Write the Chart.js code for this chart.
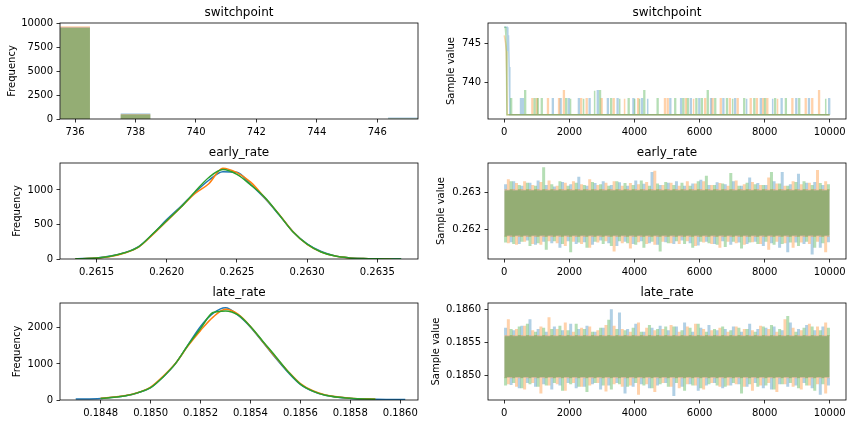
<!DOCTYPE html>
<html>
<head>
<meta charset="utf-8">
<script src="https://cdn.jsdelivr.net/npm/chart.js@4.4.0/dist/chart.umd.min.js"></script>
<style>
  body { margin: 0; background: #fff; width: 856px; height: 424px; position: relative; overflow: hidden; }
  canvas { position: absolute; }
</style>
</head>
<body>
<canvas id="swHist" width="428" height="140" style="left:0;top:0"></canvas>
<canvas id="swTrace" width="428" height="140" style="left:428px;top:0"></canvas>
<canvas id="earlyHist" width="428" height="140" style="left:0;top:140px"></canvas>
<canvas id="earlyTrace" width="428" height="140" style="left:428px;top:140px"></canvas>
<canvas id="lateHist" width="428" height="144" style="left:0;top:280px"></canvas>
<canvas id="lateTrace" width="428" height="144" style="left:428px;top:280px"></canvas>
<script>
// couleurs des 3 chaînes (bleu, orange, vert)
const chainColors = ["#1f77b4", "#ff7f0e", "#2ca02c"];

// ---- switchpoint : histogramme ----
const swBins = [736, 738, 746.85];
const swHistBlue = [9540, 560, 130];
const swHistOrange = [9620, 480, 0];
const swHistGreen = [9440, 420, 0];
const swHistXTicks = [736, 738, 740, 742, 744, 746];
const swHistYTicks = [0, 2500, 5000, 7500, 10000];

// ---- switchpoint : trace (burn-in puis sauts) ----
const swBurnBlue = [[0, 747], [40, 747], [90, 747], [110, 744], [130, 746], [150, 742], [170, 736]];
const swBurnOrange = [[0, 746], [20, 746], [40, 745], [60, 744], [75, 741], [90, 736]];
const swBurnGreen = [[0, 747], [30, 747], [50, 746], [65, 744], [80, 736]];
const swJumpsBlue = [[500, 738], [560, 738], [1480, 738], [1720, 738], [1970, 738], [2280, 738], [2610, 738], [2860, 739],
  [3170, 738], [3470, 738], [3955, 738], [4220, 738], [4390, 738], [5090, 738], [5420, 738], [5720, 738], [5980, 738],
  [6340, 738], [6720, 738], [7080, 738], [7430, 738], [7870, 738], [8230, 738], [8510, 738], [8960, 738], [9350, 738], [9970, 738]];
const swJumpsOrange = [[850, 738], [990, 738], [1330, 738], [1670, 738], [1820, 739], [2350, 738], [2520, 738], [2980, 738],
  [3350, 738], [3680, 738], [4100, 738], [4925, 738], [5010, 738], [5570, 738], [5800, 738], [6160, 738], [6390, 738],
  [6640, 738], [6920, 738], [7160, 738], [7560, 738], [7750, 738], [7940, 738], [8070, 738], [8380, 738], [8840, 738],
  [9250, 738], [9450, 738], [9660, 739]];
const swJumpsGreen = [[200, 738], [630, 739], [920, 738], [1020, 738], [1140, 738], [1890, 738], [2020, 738], [2420, 738],
  [2760, 739], [2930, 739], [3270, 738], [3530, 738], [3810, 738], [3990, 738], [4140, 738], [4290, 739], [4700, 738],
  [5240, 738], [5490, 738], [5630, 738], [5890, 738], [6060, 738], [6240, 739], [6470, 738], [6830, 738], [7000, 738],
  [7360, 738], [7670, 738], [8000, 738], [8310, 738], [8640, 738], [9050, 738], [9860, 738]];
const swTraceYTicks = [740, 745];
const traceXTicks = [0, 2000, 4000, 6000, 8000, 10000];

// fenêtres de 250 itérations pour les min / max des traces continues
const traceWindow = 250;
const chainOffsets = [40, 125, 210];

// ---- early_rate : densité ----
const earlyKdeX = [0.26135, 0.2614, 0.2615, 0.2616, 0.2617, 0.2618, 0.2619, 0.2620, 0.2621, 0.2622, 0.2623, 0.2624,
  0.2625, 0.2626, 0.2627, 0.2628, 0.2629, 0.2630, 0.2631, 0.2632, 0.2633, 0.2634, 0.2635, 0.2636, 0.26367];
const earlyKdeBlue = [3, 6, 16, 42, 92, 180, 360, 570, 760, 960, 1140, 1265, 1255, 1075, 875, 640, 395, 220, 108, 45, 18, 7, 3, 1, 1];
const earlyKdeOrange = [2, 5, 13, 36, 86, 172, 352, 548, 745, 945, 1090, 1315, 1250, 1110, 885, 650, 395, 210, 100, 42, 16, 6, 2, 1, null];
const earlyKdeGreen = [2, 5, 14, 40, 90, 176, 362, 555, 748, 970, 1180, 1295, 1225, 1070, 890, 645, 390, 215, 102, 42, 16, 6, 2, 1, 1];
const earlyHistXTicks = [0.2615, 0.2620, 0.2625, 0.2630, 0.2635];
const earlyHistYTicks = [0, 500, 1000];

// ---- early_rate : trace (bande centrale + max / min par fenêtre) ----
const earlyBandBlue = [0.26181, 0.26307];
const earlyBandOrange = [0.26179, 0.26309];
const earlyBandGreen = [0.26183, 0.26305];
const earlyMaxBlue = [0.26322, 0.26330, 0.26318, 0.26326, 0.26332, 0.26320, 0.26316, 0.26328, 0.26322, 0.26342,
  0.26318, 0.26325, 0.26330, 0.26320, 0.26327, 0.26318, 0.26332, 0.26323, 0.26355, 0.26320,
  0.26326, 0.26330, 0.26318, 0.26324, 0.26334, 0.26320, 0.26327, 0.26322, 0.26330, 0.26318,
  0.26340, 0.26325, 0.26320, 0.26330, 0.26355, 0.26322, 0.26350, 0.26326, 0.26328, 0.26320];
const earlyMaxOrange = [0.26335, 0.26325, 0.26330, 0.26320, 0.26328, 0.26332, 0.26318, 0.26326, 0.26330, 0.26322,
  0.26335, 0.26320, 0.26326, 0.26330, 0.26318, 0.26325, 0.26322, 0.26328, 0.26358, 0.26320,
  0.26326, 0.26318, 0.26330, 0.26324, 0.26330, 0.26320, 0.26325, 0.26318, 0.26332, 0.26322,
  0.26328, 0.26320, 0.26340, 0.26324, 0.26318, 0.26330, 0.26322, 0.26326, 0.26360, 0.26330];
const earlyMaxGreen = [0.26330, 0.26320, 0.26326, 0.26318, 0.26368, 0.26322, 0.26330, 0.26318, 0.26326, 0.26320,
  0.26328, 0.26322, 0.26318, 0.26330, 0.26325, 0.26320, 0.26332, 0.26318, 0.26324, 0.26328,
  0.26320, 0.26326, 0.26318, 0.26330, 0.26345, 0.26320, 0.26324, 0.26352, 0.26318, 0.26326,
  0.26322, 0.26320, 0.26355, 0.26324, 0.26318, 0.26328, 0.26330, 0.26320, 0.26325, 0.26322];
const earlyMinBlue = [0.26165, 0.26160, 0.26170, 0.26158, 0.26166, 0.26162, 0.26150, 0.26168, 0.26160, 0.26165,
  0.26158, 0.26170, 0.26162, 0.26155, 0.26166, 0.26160, 0.26168, 0.26162, 0.26158, 0.26165,
  0.26160, 0.26170, 0.26162, 0.26156, 0.26166, 0.26160, 0.26168, 0.26158, 0.26164, 0.26160,
  0.26166, 0.26155, 0.26162, 0.26150, 0.26138, 0.26164, 0.26160, 0.26132, 0.26150, 0.26165];
const earlyMinOrange = [0.26162, 0.26158, 0.26166, 0.26160, 0.26158, 0.26168, 0.26162, 0.26155, 0.26166, 0.26160,
  0.26150, 0.26164, 0.26168, 0.26140, 0.26162, 0.26148, 0.26165, 0.26160, 0.26158, 0.26166,
  0.26162, 0.26160, 0.26168, 0.26155, 0.26164, 0.26160, 0.26150, 0.26166, 0.26162, 0.26158,
  0.26165, 0.26160, 0.26145, 0.26166, 0.26162, 0.26150, 0.26164, 0.26160, 0.26166, 0.26138];
const earlyMinGreen = [0.26164, 0.26160, 0.26166, 0.26155, 0.26162, 0.26145, 0.26168, 0.26160, 0.26138, 0.26164,
  0.26150, 0.26166, 0.26160, 0.26155, 0.26168, 0.26162, 0.26158, 0.26150, 0.26166, 0.26140,
  0.26162, 0.26168, 0.26160, 0.26150, 0.26166, 0.26162, 0.26158, 0.26152, 0.26166, 0.26148,
  0.26164, 0.26160, 0.26166, 0.26158, 0.26160, 0.26164, 0.26155, 0.26166, 0.26150, 0.26162];
const earlyTraceYTicks = [0.262, 0.263];

// ---- late_rate : densité ----
const lateKdeX = [0.18470, 0.1848, 0.1849, 0.18495, 0.1850, 0.18505, 0.1851, 0.18515, 0.1852, 0.18525, 0.1853, 0.18535,
  0.1854, 0.18545, 0.1855, 0.18555, 0.1856, 0.18565, 0.1857, 0.1858, 0.1859, 0.1860, 0.18602];
const lateKdeBlue = [25, 45, 115, 200, 340, 640, 1010, 1530, 2040, 2400, 2555, 2350, 2020, 1600, 1170, 770, 430, 240, 130, 44, 22, 14, 12];
const lateKdeOrange = [null, 50, 125, 210, 360, 660, 1020, 1500, 1930, 2300, 2515, 2380, 2040, 1610, 1190, 800, 455, 255, 140, 52, 25, null, null];
const lateKdeGreen = [null, 40, 118, 205, 345, 640, 1015, 1525, 1985, 2425, 2470, 2360, 2040, 1625, 1215, 790, 440, 245, 132, 46, 22, null, null];
const lateHistXTicks = [0.1848, 0.1850, 0.1852, 0.1854, 0.1856, 0.1858, 0.1860];
const lateHistYTicks = [0, 1000, 2000];

// ---- late_rate : trace ----
const lateBandBlue = [0.18496, 0.18560];
const lateBandOrange = [0.18495, 0.18561];
const lateBandGreen = [0.18497, 0.18559];
const lateMaxBlue = [0.18572, 0.18568, 0.18575, 0.18585, 0.18570, 0.18566, 0.18574, 0.18568, 0.18578, 0.18570,
  0.18575, 0.18566, 0.18572, 0.18600, 0.18595, 0.18570, 0.18578, 0.18566, 0.18572, 0.18575,
  0.18568, 0.18574, 0.18580, 0.18566, 0.18572, 0.18576, 0.18568, 0.18570, 0.18574, 0.18566,
  0.18578, 0.18570, 0.18572, 0.18574, 0.18568, 0.18580, 0.18570, 0.18576, 0.18568, 0.18574];
const lateMaxOrange = [0.18585, 0.18570, 0.18575, 0.18568, 0.18574, 0.18588, 0.18570, 0.18580, 0.18566, 0.18572,
  0.18574, 0.18568, 0.18576, 0.18575, 0.18570, 0.18566, 0.18580, 0.18572, 0.18568, 0.18570,
  0.18576, 0.18566, 0.18574, 0.18578, 0.18570, 0.18568, 0.18572, 0.18566, 0.18574, 0.18570,
  0.18568, 0.18575, 0.18570, 0.18566, 0.18585, 0.18572, 0.18568, 0.18578, 0.18574, 0.18580];
const lateMaxGreen = [0.18570, 0.18574, 0.18578, 0.18566, 0.18572, 0.18570, 0.18575, 0.18568, 0.18578, 0.18570,
  0.18566, 0.18572, 0.18584, 0.18570, 0.18568, 0.18572, 0.18566, 0.18576, 0.18570, 0.18574,
  0.18574, 0.18568, 0.18572, 0.18578, 0.18566, 0.18570, 0.18574, 0.18568, 0.18572, 0.18570,
  0.18566, 0.18574, 0.18576, 0.18570, 0.18590, 0.18566, 0.18572, 0.18574, 0.18568, 0.18572];
const lateMinBlue = [0.18485, 0.18480, 0.18488, 0.18482, 0.18486, 0.18478, 0.18484, 0.18488, 0.18480, 0.18482,
  0.18486, 0.18478, 0.18484, 0.18488, 0.18472, 0.18482, 0.18486, 0.18480, 0.18484, 0.18488,
  0.18468, 0.18482, 0.18486, 0.18476, 0.18484, 0.18488, 0.18480, 0.18484, 0.18486, 0.18482,
  0.18488, 0.18480, 0.18478, 0.18486, 0.18482, 0.18484, 0.18488, 0.18480, 0.18470, 0.18484];
const lateMinOrange = [0.18486, 0.18482, 0.18478, 0.18488, 0.18472, 0.18484, 0.18486, 0.18476, 0.18488, 0.18482,
  0.18484, 0.18488, 0.18475, 0.18486, 0.18482, 0.18484, 0.18470, 0.18486, 0.18474, 0.18488,
  0.18482, 0.18480, 0.18486, 0.18484, 0.18478, 0.18488, 0.18482, 0.18484, 0.18486, 0.18482,
  0.18476, 0.18484, 0.18488, 0.18474, 0.18486, 0.18482, 0.18478, 0.18484, 0.18486, 0.18472];
const lateMinGreen = [0.18484, 0.18488, 0.18480, 0.18486, 0.18482, 0.18484, 0.18488, 0.18476, 0.18486, 0.18482,
  0.18474, 0.18488, 0.18484, 0.18478, 0.18486, 0.18482, 0.18488, 0.18484, 0.18480, 0.18486,
  0.18482, 0.18488, 0.18476, 0.18484, 0.18480, 0.18486, 0.18484, 0.18482, 0.18488, 0.18472,
  0.18486, 0.18482, 0.18484, 0.18478, 0.18486, 0.18488, 0.18480, 0.18484, 0.18476, 0.18486];
const lateTraceYTicks = [0.1850, 0.1855, 0.1860];

// ================================================================

Chart.defaults.font.family = '"DejaVu Sans", sans-serif';
Chart.defaults.font.size = 10;
Chart.defaults.color = "#000";
Chart.defaults.animation = false;
Chart.defaults.responsive = false;
Chart.defaults.plugins.legend.display = false;
Chart.defaults.plugins.tooltip.enabled = false;

function rgba(hex, a) {
  const n = parseInt(hex.slice(1), 16);
  return `rgba(${n >> 16},${(n >> 8) & 255},${n & 255},${a})`;
}

// cadre + titre façon matplotlib
const framePlugin = {
  id: "frame",
  afterDraw(chart, args, opts) {
    const { ctx, chartArea: a } = chart;
    ctx.save();
    ctx.strokeStyle = "#000";
    ctx.lineWidth = 0.8;
    ctx.strokeRect(a.left, a.top, a.right - a.left, a.bottom - a.top);
    ctx.fillStyle = "#000";
    ctx.font = '12px "DejaVu Sans"';
    ctx.textAlign = "center";
    ctx.textBaseline = "alphabetic";
    ctx.fillText(opts.text, (a.left + a.right) / 2, a.top - 7);
    ctx.restore();
  }
};

function axis(min, max, ticks, fmt) {
  return {
    type: "linear", min, max, offset: false,
    afterBuildTicks: s => { s.ticks = ticks.map(v => ({ value: v })); },
    ticks: { callback: fmt, autoSkip: false, maxRotation: 0, padding: 3.5 },
    grid: { offset: false, drawOnChartArea: false, drawTicks: true, tickLength: 3.5, color: "#000", lineWidth: 0.8 },
    border: { display: false }
  };
}

function makeChart(id, type, datasets, xAxis, yAxis, title, yTitle, yTitlePad, xHeight) {
  xAxis.afterFit = s => { s.height = xHeight; };
  yAxis.afterFit = s => { s.width = 60; };
  yAxis.title = { display: true, text: yTitle, padding: { top: yTitlePad, bottom: 0 }, font: { size: 10 } };
  return new Chart(document.getElementById(id), {
    type,
    data: { datasets },
    options: {
      layout: { padding: { left: 0, right: 10, top: 23, bottom: 0 } },
      scales: { x: xAxis, y: yAxis },
      plugins: { frame: { text: title } }
    },
    plugins: [framePlugin]
  });
}

const intFmt = v => String(v);

// ---- jeux de données ----
function histSets(bins, series) {
  return series.map((vals, i) => ({
    data: bins.map((b, j) => ({ x: b, y: vals[j] })),
    backgroundColor: rgba(chainColors[i], 0.35),
    borderWidth: 0, barThickness: 29, grouped: false, order: 3 - i
  }));
}

function kdeSets(xs, series) {
  return series.map((vals, i) => ({
    type: "line",
    data: xs.map((x, j) => ({ x, y: vals[j] })),
    borderColor: chainColors[i], borderWidth: 1.5, pointRadius: 0,
    cubicInterpolationMode: "monotone", order: 3 - i
  }));
}

function swTraceSets(burns, jumps) {
  return burns.map((burn, i) => {
    const data = burn.map(([x, y]) => ({ x, y }));
    jumps[i].forEach(([it, v]) => {
      data.push({ x: it, y: 736 }, { x: it, y: v }, { x: it + 25, y: v }, { x: it + 25, y: 736 });
    });
    data.push({ x: 9999, y: 736 });
    return { data, borderColor: rgba(chainColors[i], 0.35), borderWidth: 1.5, pointRadius: 0, order: 3 - i };
  });
}

// bande pleine de chaque chaîne + traits verticaux vers le max / min de chaque fenêtre
function traceSets(bands, maxs, mins) {
  const sets = [];
  bands.forEach((band, i) => {
    const col = chainColors[i];
    sets.push({
      data: [{ x: 0, y: band[1] }, { x: 9999, y: band[1] }],
      borderWidth: 0, pointRadius: 0, fill: { value: band[0] },
      backgroundColor: rgba(col, 0.35), order: 6 - 2 * i
    });
    const data = [];
    maxs[i].forEach((v, k) => {
      const it = k * traceWindow + chainOffsets[i];
      data.push({ x: it, y: band[1] }, { x: it, y: v }, { x: it, y: null });
    });
    mins[i].forEach((v, k) => {
      const it = k * traceWindow + traceWindow - chainOffsets[i];
      data.push({ x: it, y: band[0] }, { x: it, y: v }, { x: it, y: null });
    });
    sets.push({ data, borderColor: rgba(col, 0.35), borderWidth: 3, borderCapStyle: "butt",
      pointRadius: 0, spanGaps: false, order: 5 - 2 * i });
  });
  return sets;
}

// ---- graphiques ----
makeChart("swHist", "bar",
  histSets(swBins, [swHistBlue, swHistOrange, swHistGreen]),
  axis(735.5, 747.35, swHistXTicks, intFmt),
  axis(0, 10000, swHistYTicks, intFmt),
  "switchpoint", "Frequency", 6, 21);

makeChart("swTrace", "line",
  swTraceSets([swBurnBlue, swBurnOrange, swBurnGreen], [swJumpsBlue, swJumpsOrange, swJumpsGreen]),
  axis(-500, 10500, traceXTicks, intFmt),
  axis(735.45, 747.55, swTraceYTicks, intFmt),
  "switchpoint", "Sample value", 17, 21);

makeChart("earlyHist", "line",
  kdeSets(earlyKdeX, [earlyKdeBlue, earlyKdeOrange, earlyKdeGreen]),
  axis(0.26124, 0.26379, earlyHistXTicks, v => v.toFixed(4)),
  axis(0, 1390, earlyHistYTicks, intFmt),
  "early_rate", "Frequency", 11, 21);

makeChart("earlyTrace", "line",
  traceSets([earlyBandBlue, earlyBandOrange, earlyBandGreen],
    [earlyMaxBlue, earlyMaxOrange, earlyMaxGreen],
    [earlyMinBlue, earlyMinOrange, earlyMinGreen]),
  axis(-500, 10500, traceXTicks, intFmt),
  axis(0.261197, 0.263792, earlyTraceYTicks, v => v.toFixed(3)),
  "early_rate", "Sample value", 7, 21);

makeChart("lateHist", "line",
  kdeSets(lateKdeX, [lateKdeBlue, lateKdeOrange, lateKdeGreen]),
  axis(0.184637, 0.186071, lateHistXTicks, v => v.toFixed(4)),
  axis(0, 2690, lateHistYTicks, intFmt),
  "late_rate", "Frequency", 11, 24);

makeChart("lateTrace", "line",
  traceSets([lateBandBlue, lateBandOrange, lateBandGreen],
    [lateMaxBlue, lateMaxOrange, lateMaxGreen],
    [lateMinBlue, lateMinOrange, lateMinGreen]),
  axis(-500, 10500, traceXTicks, intFmt),
  axis(0.18462, 0.186096, lateTraceYTicks, v => v.toFixed(4)),
  "late_rate", "Sample value", 2, 24);
</script>
</body>
</html>
